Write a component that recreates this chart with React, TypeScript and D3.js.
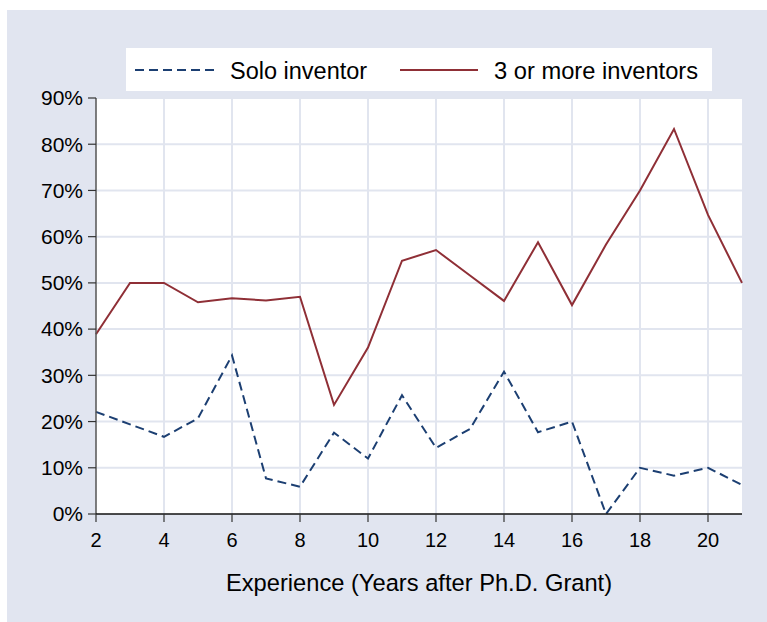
import React from "react";
import * as d3 from "d3";

const years = [2, 3, 4, 5, 6, 7, 8, 9, 10, 11, 12, 13, 14, 15, 16, 17, 18, 19, 20, 21];
const solo = [22.1, 19.4, 16.7, 20.7, 34.3, 7.7, 5.9, 17.6, 12.0, 25.7, 14.3, 18.4, 30.8, 17.7, 20.0, 0, 10.0, 8.3, 10.0, 6.3];
const threePlus = [38.9, 50.0, 50.0, 45.8, 46.7, 46.2, 47.0, 23.6, 36.0, 54.8, 57.1, 51.6, 46.1, 58.8, 45.2, 58.3, 70.0, 83.3, 64.7, 50.0];
const yTicks = [0, 10, 20, 30, 40, 50, 60, 70, 80, 90];
const xTicks = [2, 4, 6, 8, 10, 12, 14, 16, 18, 20];
const seriesNames = ["Solo inventor", "3 or more inventors"];
const xTitle = "Experience (Years after Ph.D. Grant)";

const W = 767, H = 622;
const L = 96, R = 742, T = 98, B = 514;
const FONT = "'Liberation Sans', Arial, Helvetica, sans-serif";
const BG = "#e1e5f0";
const GRID = "#e1e5ef";
const BLUE = "#1c3f72";
const RED = "#8f2f36";

export default function App() {
  const x = d3.scaleLinear().domain([2, 21]).range([L, R]);
  const y = d3.scaleLinear().domain([0, 90]).range([B, T]);
  const line = d3.line<number>().x((_, i) => x(years[i])).y((d) => y(d));

  return (
    <svg width={W} height={H} style={{ position: "absolute", left: 0, top: 0 }}>
      <rect x={0} y={0} width={W} height={H} fill="#ffffff" />
      <rect x={7} y={10} width={W - 7} height={H - 10} fill={BG} />
      <rect x={L} y={T} width={R - L} height={B - T} fill="#ffffff" />
      {yTicks.filter((t) => t > 0).map((t) => (
        <line key={"gy" + t} x1={L} x2={R} y1={y(t)} y2={y(t)} stroke={GRID} strokeWidth={2} />
      ))}
      {xTicks.filter((t) => t > 2).map((t) => (
        <line key={"gx" + t} x1={x(t)} x2={x(t)} y1={T} y2={B} stroke={GRID} strokeWidth={2} />
      ))}
      <path d={line(threePlus) || ""} fill="none" stroke={RED} strokeWidth={2} strokeLinejoin="miter" />
      <path d={line(solo) || ""} fill="none" stroke={BLUE} strokeWidth={2} strokeDasharray="9,5" />
      {/* y axis */}
      <line x1={L} x2={L} y1={T} y2={B} stroke="#555" strokeWidth={1.5} />
      {yTicks.map((t) => (
        <g key={"yt" + t}>
          <line x1={L - 8} x2={L} y1={y(t)} y2={y(t)} stroke="#333" strokeWidth={1.2} />
          <text x={L - 13} y={y(t)} dy="0.35em" textAnchor="end" fontFamily={FONT} fontSize={21} fill="#000">
            {t + "%"}
          </text>
        </g>
      ))}
      {/* x axis */}
      <line x1={L} x2={R} y1={B} y2={B} stroke="#111" strokeWidth={1.5} />
      {xTicks.map((t) => (
        <g key={"xt" + t}>
          <line x1={x(t)} x2={x(t)} y1={B} y2={B + 8} stroke="#333" strokeWidth={1.2} />
          <text x={x(t)} y={547} textAnchor="middle" fontFamily={FONT} fontSize={20} fill="#000">
            {t}
          </text>
        </g>
      ))}
      <text x={419} y={591} textAnchor="middle" fontFamily={FONT} fontSize={23.7} fill="#000">
        {xTitle}
      </text>
      {/* legend */}
      <rect x={126} y={48} width={586} height={43} fill="#ffffff" />
      <line x1={135} x2={218} y1={70} y2={70} stroke={BLUE} strokeWidth={2} strokeDasharray="9,5" />
      <text x={230} y={79} fontFamily={FONT} fontSize={23.5} fill="#000">{seriesNames[0]}</text>
      <line x1={400} x2={478} y1={70} y2={70} stroke={RED} strokeWidth={2} />
      <text x={494} y={79} fontFamily={FONT} fontSize={23.7} fill="#000">{seriesNames[1]}</text>
    </svg>
  );
}
